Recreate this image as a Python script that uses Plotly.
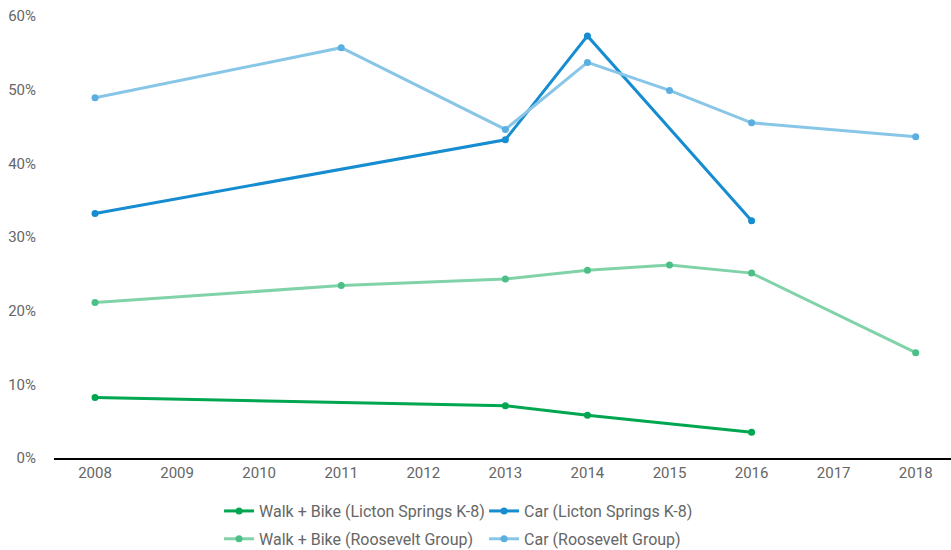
import plotly.graph_objects as go

years = ["2008", "2009", "2010", "2011", "2012", "2013", "2014", "2015", "2016", "2017", "2018"]

walk_licton_x = ["2008", "2013", "2014", "2016"]
walk_licton_y = [8.2, 7.1, 5.8, 3.5]

car_licton_x = ["2008", "2013", "2014", "2016"]
car_licton_y = [33.2, 43.2, 57.3, 32.2]

walk_roos_x = ["2008", "2011", "2013", "2014", "2015", "2016", "2018"]
walk_roos_y = [21.1, 23.4, 24.3, 25.5, 26.2, 25.1, 14.3]

car_roos_x = ["2008", "2011", "2013", "2014", "2015", "2016", "2018"]
car_roos_y = [48.9, 55.7, 44.6, 53.7, 49.9, 45.5, 43.6]

y_ticks = [0, 10, 20, 30, 40, 50, 60]
y_tick_labels = ["0%", "10%", "20%", "30%", "40%", "50%", "60%"]

font_family = "Roboto, DejaVu Sans, sans-serif"

fig = go.Figure()
fig.add_trace(go.Scatter(
    x=walk_licton_x, y=walk_licton_y, name="Walk + Bike (Licton Springs K-8)",
    mode="lines+markers", line=dict(color="#00a650", width=3),
    marker=dict(color="#00a650", size=7), legend="legend"))
fig.add_trace(go.Scatter(
    x=car_licton_x, y=car_licton_y, name="Car (Licton Springs K-8)",
    mode="lines+markers", line=dict(color="#168dd0", width=3),
    marker=dict(color="#168dd0", size=7), legend="legend"))
fig.add_trace(go.Scatter(
    x=walk_roos_x, y=walk_roos_y, name="Walk + Bike (Roosevelt Group)",
    mode="lines+markers", line=dict(color="#80d3a9", width=3),
    marker=dict(color="#4cbf86", size=7), legend="legend2"))
fig.add_trace(go.Scatter(
    x=car_roos_x, y=car_roos_y, name="Car (Roosevelt Group)",
    mode="lines+markers", line=dict(color="#88c6e8", width=3),
    marker=dict(color="#5aafe0", size=7), legend="legend2"))

legend_common = dict(
    orientation="h", xanchor="left", yanchor="middle",
    font=dict(family=font_family, size=16, color="#666666"),
    bgcolor="rgba(0,0,0,0)", entrywidth=220, entrywidthmode="pixels",
    itemwidth=30,
)

fig.update_layout(
    width=951, height=550,
    margin=dict(l=54, r=0, t=16, b=92, autoexpand=False),
    paper_bgcolor="white", plot_bgcolor="white",
    font=dict(family=font_family, size=15, color="#666666"),
    xaxis=dict(
        type="category", categoryorder="array", categoryarray=years,
        range=[-0.5, 10.43], showgrid=False, showline=True, linecolor="#000000",
        linewidth=1.5, ticks="", tickfont=dict(size=15, color="#666666"),
        zeroline=False, automargin=False, ticklabeloverflow="allow",
    ),
    yaxis=dict(
        range=[0, 60], tickvals=y_ticks, ticktext=y_tick_labels,
        showgrid=False, showline=False, zeroline=False, ticks="",
        tickfont=dict(size=15, color="#666666"), ticklabelstandoff=17,
        automargin=False, ticklabeloverflow="allow",
    ),
    legend=dict(x=0.184, y=-0.12, **legend_common),
    legend2=dict(x=0.184, y=-0.183, **legend_common),
    showlegend=True,
)

page_css = (
    "var s=document.createElement('style');"
    "s.textContent='html,body{margin:0;padding:0;width:951px;height:550px;overflow:hidden;}';"
    "document.head.appendChild(s);"
)

fig.write_html("out.html", config={"displayModeBar": False}, post_script=page_css)
